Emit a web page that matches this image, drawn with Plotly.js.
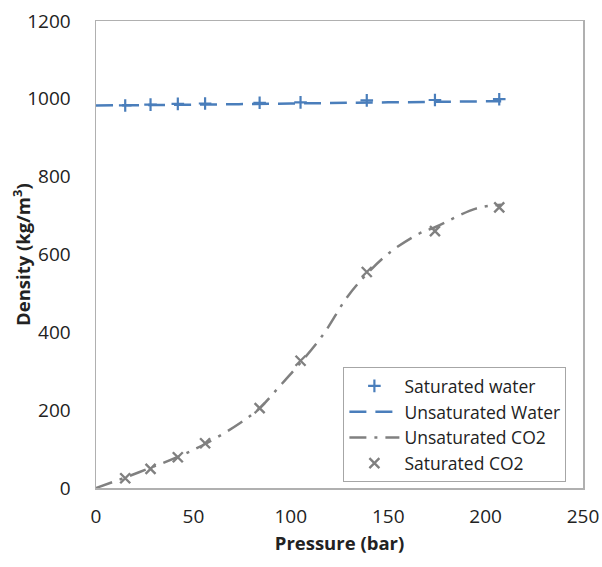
<!DOCTYPE html>
<html>
<head>
<meta charset="utf-8">
<script src="https://cdn.plot.ly/plotly-3.0.1.min.js"></script>
<style>html,body{margin:0;padding:0;background:#fff;}#chart{width:602px;height:567px;}</style>
</head>
<body>
<div id="chart"></div>
<script>
// Saturated water (markers)
var satWaterP = [15, 28, 42, 56, 84, 105, 139, 174, 207];
var satWaterD = [983, 985, 987, 988, 990, 991, 996, 997, 999];
// Unsaturated water (dashed line)
var unsatWaterP = [0, 50, 100, 150, 208];
var unsatWaterD = [983, 985, 988, 991, 994];
// Unsaturated CO2 (dash-dot line)
var unsatCO2P = [0, 15, 28, 42, 56, 74, 84, 94, 105, 117, 129, 139, 151, 166, 174, 195, 208];
var unsatCO2D = [0, 27, 52, 80, 113, 167, 205, 260, 322, 397, 491, 550, 606, 654, 670, 718, 728];
// Saturated CO2 (markers)
var satCO2P = [15, 28, 42, 56, 84, 105, 139, 174, 207];
var satCO2D = [25, 49, 79, 115, 205, 327, 555, 660, 721];

var blue = '#4a7ebb';
var gray = '#808080';
var fontFam = '"Open Sans", sans-serif';

var traces = [
  {x: satWaterP, y: satWaterD, mode: 'markers', name: 'Saturated water', legendgroup: 'a',
   marker: {symbol: 'cross-thin-open', size: 9, line: {color: blue, width: 2.2}, color: blue}},
  {x: unsatWaterP, y: unsatWaterD, mode: 'lines', name: 'Unsaturated Water', legendgroup: 'b',
   line: {color: blue, width: 2.5, dash: '17px,9px', shape: 'spline'}},
  {x: unsatCO2P, y: unsatCO2D, mode: 'lines', name: 'Unsaturated CO2', legendgroup: 'c',
   line: {color: gray, width: 2.5, dash: '17px,8px,3px,8px', shape: 'spline'}},
  {x: satCO2P, y: satCO2D, mode: 'markers', name: 'Saturated CO2', legendgroup: 'd',
   marker: {symbol: 'x-thin-open', size: 10, line: {color: gray, width: 2.4}, color: gray}}
];

var layout = {
  width: 602, height: 567,
  margin: {l: 95.5, r: 19, t: 20.5, b: 79, pad: 0},
  paper_bgcolor: '#fff', plot_bgcolor: '#fff',
  font: {family: fontFam, size: 18, color: '#222'},
  showlegend: true,
  legend: {
    x: 0.508, y: 0.259, xanchor: 'left', yanchor: 'top',
    bordercolor: '#a6a6a6', borderwidth: 1, bgcolor: '#fff',
    font: {family: fontFam, size: 17.5, color: '#222'},
    traceorder: 'grouped', tracegroupgap: 0, itemwidth: 50
  },
  xaxis: {
    range: [0, 250], dtick: 50, tick0: 0, showgrid: false, zeroline: false,
    showline: true, linecolor: '#b0b0b0', linewidth: 1.5, mirror: true,
    ticks: '', ticklabelstandoff: 11, automargin: false,
    tickfont: {family: fontFam, size: 19, color: '#222'},
    title: {text: '<b>Pressure (bar)</b>', font: {family: fontFam, size: 18.5, color: '#222'}, standoff: 9}
  },
  yaxis: {
    range: [0, 1200], dtick: 200, tick0: 0, showgrid: false, zeroline: false,
    showline: true, linecolor: '#b0b0b0', linewidth: 1.5, mirror: true,
    ticks: '', ticklabelstandoff: 20, automargin: false,
    tickfont: {family: fontFam, size: 19, color: '#222'}
  },
  annotations: [{
    text: '<b>Density (kg/m<sup>3</sup>)</b>', xref: 'paper', yref: 'paper',
    x: -0.153, y: 0.5, xanchor: 'center', yanchor: 'middle', textangle: -90,
    showarrow: false, font: {family: fontFam, size: 18.5, color: '#222'}
  }]
};

Plotly.newPlot('chart', traces, layout, {displayModeBar: false, staticPlot: true});
</script>
</body>
</html>
